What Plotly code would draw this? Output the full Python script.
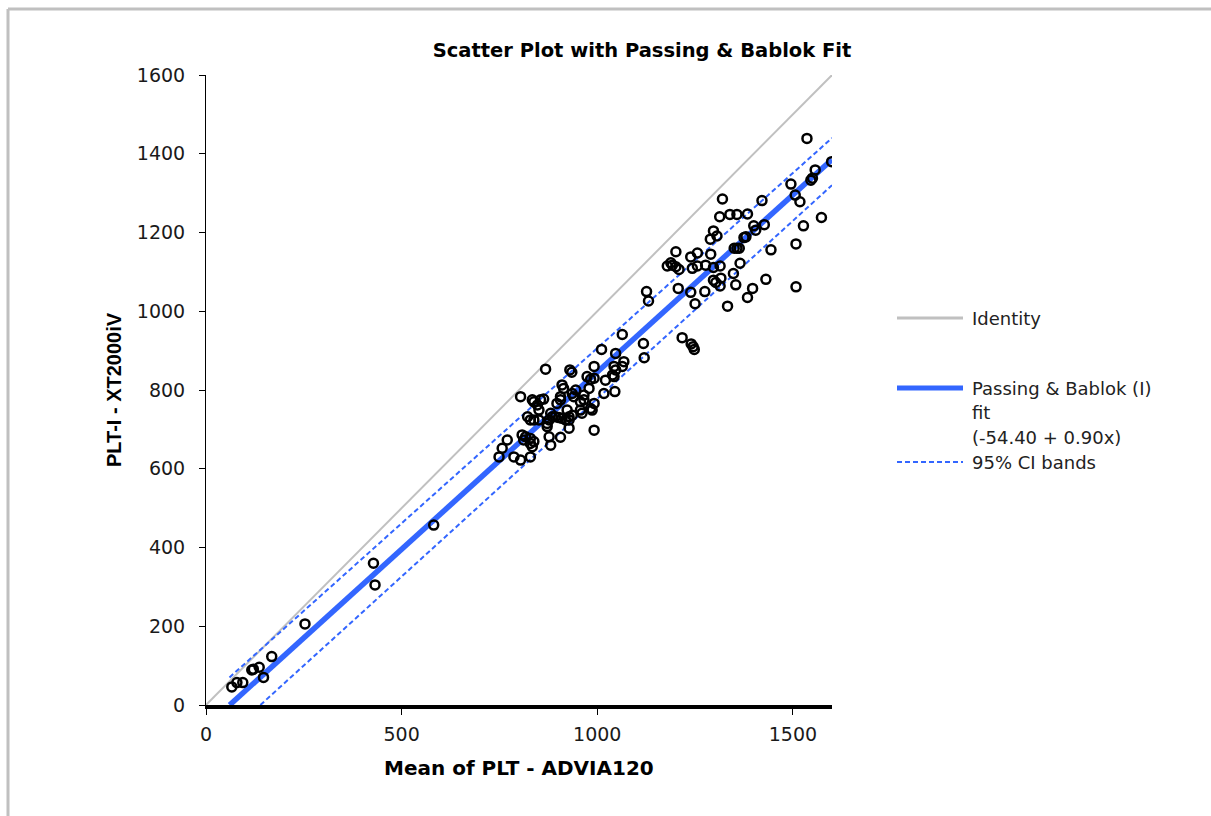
import plotly.graph_objects as go

# ---- data ----
x_vals = [66, 79, 94, 117, 121, 136, 147, 168, 253, 428, 432, 582,
          1064, 1118, 1011, 1047, 1120, 868, 930, 935, 992, 1068, 1064, 1043, 1047, 1039, 1021, 1043,
          974, 983, 992, 910, 914, 945, 979, 966, 940, 936, 906, 1017, 1045, 804, 834, 838, 855, 863,
          847, 851, 897, 906, 957, 966, 992, 987, 983, 957, 961, 923, 822, 829, 838, 851, 881, 885,
          893, 902, 910, 877, 872, 928, 936, 919, 928, 872, 928, 906, 877, 881, 992, 770, 808, 817,
          812, 829, 838, 829, 834, 757, 787, 749, 804, 829,
          1126, 1131, 1217, 1240, 1245, 1248, 1201, 1239, 1256, 1290, 1350, 1357, 1363, 1444, 1508,
          1179, 1188, 1192, 1201, 1209, 1243, 1256, 1277, 1297, 1314, 1365, 1348, 1297, 1303, 1316,
          1314, 1354, 1397, 1384, 1431, 1508, 1207, 1239, 1275, 1250, 1333,
          1536, 1599, 1557, 1546, 1550, 1495, 1506, 1518, 1320, 1421, 1313, 1339, 1357, 1384, 1297,
          1306, 1289, 1400, 1405, 1427, 1375, 1380, 1527, 1573]
y_vals = [46, 57, 57, 89, 91, 96, 70, 123, 206, 360, 305, 457,
          941, 918, 903, 893, 882, 853, 851, 845, 860, 872, 860, 860, 851, 838, 825, 834,
          834, 827, 830, 813, 804, 800, 804, 787, 783, 791, 783, 791, 796, 783, 775, 770, 775, 777,
          762, 749, 766, 775, 770, 775, 766, 749, 753, 749, 741, 749, 732, 724, 724, 724, 741, 732,
          732, 730, 728, 724, 715, 732, 736, 724, 724, 707, 703, 680, 681, 660, 698, 673, 686, 681,
          673, 677, 669, 664, 656, 652, 630, 630, 622, 630,
          1050, 1026, 933, 917, 910, 903, 1151, 1138, 1148, 1145, 1160, 1160, 1160, 1156, 1171,
          1115, 1123, 1117, 1113, 1106, 1109, 1115, 1117, 1111, 1115, 1122, 1096, 1079, 1073, 1084,
          1064, 1067, 1058, 1035, 1081, 1062, 1058, 1048, 1050, 1019, 1013,
          1439, 1380, 1359, 1333, 1338, 1323, 1295, 1278, 1285, 1281, 1240, 1246, 1246, 1247, 1204,
          1191, 1183, 1217, 1206, 1220, 1187, 1189, 1217, 1238]

identity_x = [0, 1600]
identity_y = [0, 1600]
fit_x = [60.4, 1600]
fit_y = [0, 1385.6]
ci_upper_x = [60, 1600]
ci_upper_y = [70, 1440]
ci_lower_x = [139, 1600]
ci_lower_y = [0, 1320]

x_ticks = [0, 500, 1000, 1500]
y_ticks = [0, 200, 400, 600, 800, 1000, 1200, 1400, 1600]

title_text = "Scatter Plot with Passing & Bablok Fit"
x_title = "Mean of PLT - ADVIA120"
y_title = "PLT-I - XT2000iV"
legend_labels = ["Identity", "Passing & Bablok (I)", "fit", "(-54.40 + 0.90x)", "95% CI bands"]

BLUE = "#3366ff"
GRAY = "#c0c0c0"

W, H = 1211, 816
L, R, T, B = 206, 832, 75, 705

def px_x(p):
    return (p - L) / (R - L)

def px_y(p):
    return (B - p) / (B - T)

fig = go.Figure()
fig.add_trace(go.Scatter(x=identity_x, y=identity_y, mode="lines",
                         line=dict(color=GRAY, width=2), name="Identity"))
fig.add_trace(go.Scatter(x=fit_x, y=fit_y, mode="lines",
                         line=dict(color=BLUE, width=5.5), name="Passing & Bablok (I) fit"))
fig.add_trace(go.Scatter(x=ci_upper_x, y=ci_upper_y, mode="lines",
                         line=dict(color=BLUE, width=2, dash="5px,3px"), name="95% CI bands"))
fig.add_trace(go.Scatter(x=ci_lower_x, y=ci_lower_y, mode="lines",
                         line=dict(color=BLUE, width=2, dash="5px,3px"), showlegend=False))
fig.add_trace(go.Scatter(x=x_vals, y=y_vals, mode="markers",
                         marker=dict(symbol="circle-open", size=9, color="black",
                                     line=dict(width=2.5, color="black")), name="Data"))

tick_font = dict(family="DejaVu Sans", size=19, color="#1a1a1a")

fig.update_layout(
    width=W, height=H,
    margin=dict(l=L, r=W - R, t=T, b=H - B, autoexpand=False),
    plot_bgcolor="white", paper_bgcolor="white",
    showlegend=False,
    title=dict(text="<b>" + title_text + "</b>", x=642 / W, y=1 - 50 / H,
               xanchor="center", yanchor="middle",
               font=dict(family="DejaVu Sans", size=19.5, color="black")),
    xaxis=dict(range=[0, 1600], tickvals=x_ticks, ticks="outside", ticklen=6, tickwidth=1,
               tickcolor="black", showline=True, linecolor="black", linewidth=4,
               showgrid=False, zeroline=False, tickfont=tick_font, ticklabelstandoff=3),
    yaxis=dict(range=[0, 1600], tickvals=y_ticks, ticks="outside", ticklen=6, tickwidth=1,
               tickcolor="black", showline=True, linecolor="black", linewidth=1,
               showgrid=False, zeroline=False, tickfont=tick_font, ticklabelstandoff=10),
)

# axis titles
fig.add_annotation(text="<b>" + x_title + "</b>", xref="paper", yref="paper",
                   x=0.5, y=px_y(768), showarrow=False, xanchor="center", yanchor="middle",
                   font=dict(family="DejaVu Sans", size=20, color="black"))
fig.add_annotation(text="<b>" + y_title + "</b>", xref="paper", yref="paper",
                   x=px_x(114), y=0.5, showarrow=False, xanchor="center", yanchor="middle",
                   textangle=-90, font=dict(family="Liberation Sans", size=20, color="black"))

# outer frame (top and left edges)
fig.add_shape(type="line", xref="paper", yref="paper", x0=px_x(8), x1=px_x(1215),
              y0=px_y(9), y1=px_y(9), line=dict(color=GRAY, width=3))
fig.add_shape(type="line", xref="paper", yref="paper", x0=px_x(8), x1=px_x(8),
              y0=px_y(9), y1=px_y(820), line=dict(color=GRAY, width=3))

# legend (manual)
lx0, lx1, tx = px_x(897), px_x(963), px_x(970)
fig.add_shape(type="line", xref="paper", yref="paper", x0=lx0, x1=lx1,
              y0=px_y(318), y1=px_y(318), line=dict(color=GRAY, width=3))
fig.add_shape(type="line", xref="paper", yref="paper", x0=lx0, x1=lx1,
              y0=px_y(388), y1=px_y(388), line=dict(color=BLUE, width=5))
fig.add_shape(type="line", xref="paper", yref="paper", x0=lx0, x1=lx1,
              y0=px_y(462), y1=px_y(462), line=dict(color=BLUE, width=2, dash="5px,3px"))
leg_font = dict(family="DejaVu Sans", size=18, color="#222")
for label, py in zip(legend_labels, [318, 388, 412, 437, 462]):
    fig.add_annotation(text=label, xref="paper", yref="paper", x=tx, y=px_y(py),
                       showarrow=False, xanchor="left", yanchor="middle", font=leg_font)

fig.write_html("out.html")
